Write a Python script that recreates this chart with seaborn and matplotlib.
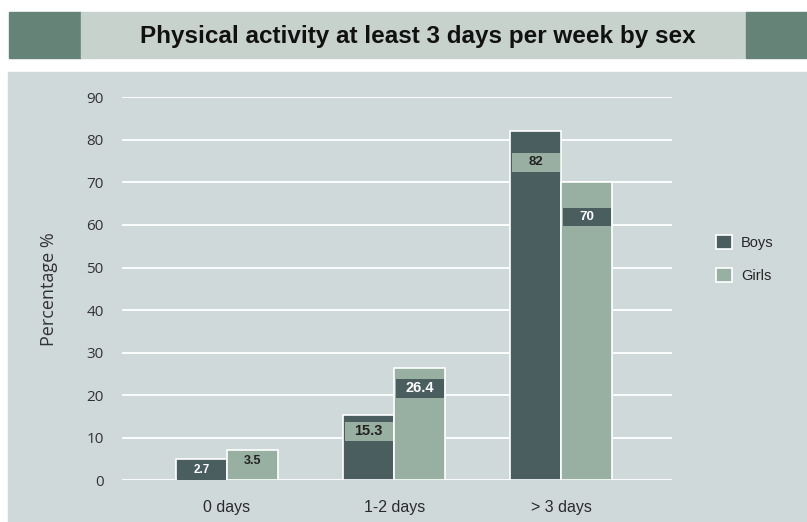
import pandas as pd
import seaborn as sns
import matplotlib.pyplot as plt
from matplotlib.patches import Rectangle

# Données
categories = ["0 days", "1-2 days", "> 3 days"]
boys = [5.1, 15.3, 82]
girls = [7.2, 26.4, 70]
boys_labels = ["2.7", "15.3", "82"]
girls_labels = ["3.5", "26.4", "70"]
y_ticks = [0, 10, 20, 30, 40, 50, 60, 70, 80, 90]

df = pd.DataFrame({
    "Jours": categories * 2,
    "Sexe": ["Boys"] * 3 + ["Girls"] * 3,
    "Pourcentage": boys + girls,
})

# Couleurs
c_boys = "#4a5e60"
c_girls = "#98b0a2"
c_panel = "#d0d9da"
c_band = "#c8d2cc"
c_dark = "#658477"

sns.set_style("white")
plt.rcParams["font.family"] = ["Liberation Sans", "DejaVu Sans"]

fig = plt.figure(figsize=(8.07, 5.22), dpi=100)
W, H = 807, 522

# Bandeau du titre et fond du graphique
fig.patches.append(Rectangle((9 / W, 1 - 58 / H), 72 / W, 46 / H, transform=fig.transFigure, color=c_dark, zorder=-10))
fig.patches.append(Rectangle((81 / W, 1 - 58 / H), 665 / W, 46 / H, transform=fig.transFigure, color=c_band, zorder=-10))
fig.patches.append(Rectangle((746 / W, 1 - 58 / H), 61 / W, 46 / H, transform=fig.transFigure, color=c_dark, zorder=-10))
fig.patches.append(Rectangle((8 / W, 0), 799 / W, 1 - 72 / H, transform=fig.transFigure, color=c_panel, zorder=-10))
fig.text(418 / W, 1 - 36 / H, "Physical activity at least 3 days per week by sex",
         ha="center", va="center", fontsize=17.5, fontweight="bold", color="#111111")

ax = fig.add_axes([121.7 / W, 1 - 480.3 / H, 550 / W, (480.3 - 97.3) / H])
ax.set_facecolor("none")

sns.barplot(data=df, x="Jours", y="Pourcentage", hue="Sexe", palette=[c_boys, c_girls],
            width=0.61, edgecolor="white", linewidth=1.2, saturation=1, ax=ax, zorder=3)

# Étiquettes dans des boîtes
box_h = 4.35
drops = [[0.6, 1.6, 5.1], [0.6, 2.6, 6.0]]
box_colors = [[c_boys, c_girls, c_girls], [c_girls, c_boys, c_boys]]
txt_colors = [["white", "#222222", "#222222"], ["#222222", "white", "white"]]
sizes = [[8.5, 10.5, 9.5], [9, 10.5, 9.5]]
all_labels = [boys_labels, girls_labels]
for i, cont in enumerate(ax.containers):
    for j, p in enumerate(cont.patches):
        top = p.get_height()
        y0 = top - drops[i][j] - box_h
        ax.add_patch(Rectangle((p.get_x() + 0.008, y0), p.get_width() - 0.016, box_h,
                               color=box_colors[i][j], zorder=4, linewidth=0))
        ax.text(p.get_x() + p.get_width() / 2, y0 + box_h / 2, all_labels[i][j],
                ha="center", va="center", fontsize=sizes[i][j], fontweight="bold",
                color=txt_colors[i][j], zorder=5)

ax.set_xlim(-0.63, 2.66)
ax.set_ylim(0, 90)
ax.set_yticks(y_ticks)
ax.set_yticklabels([str(v) for v in y_ticks], fontsize=11, color="#333333", family="Open Sans")
ax.tick_params(axis="y", length=0, pad=13)
ax.tick_params(axis="x", length=0, pad=14, labelsize=11.5, labelcolor="#2a2a2a")
ax.grid(axis="y", color="white", linewidth=1.3)
ax.set_axisbelow(True)
for s in ax.spines.values():
    s.set_visible(False)
ax.set_xlabel("")
ax.set_ylabel("Percentage %", fontsize=13, color="#333333", labelpad=20, family="Open Sans")

ax.legend(title=None, frameon=False, loc="center left", bbox_to_anchor=(703 / W, 1 - 259 / H),
          bbox_transform=fig.transFigure, fontsize=10.5, handlelength=1.1, handleheight=1.1,
          labelspacing=1.2, handletextpad=0.6)

plt.savefig("out.png", dpi=100)
